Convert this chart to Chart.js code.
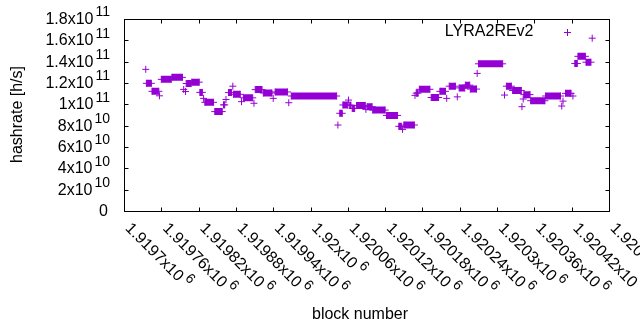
<!DOCTYPE html>
<html><head><meta charset="utf-8">
<script src="https://cdn.jsdelivr.net/npm/chart.js@4/dist/chart.umd.min.js"></script>
<style>html,body{margin:0;padding:0;background:#fff;}#wrap{width:640px;height:330px;}</style>
</head><body><div id="wrap"><canvas id="c" width="640" height="330"></canvas></div>
<script>
// ---- data ----
const seriesName = 'LYRA2REv2';
const xTitle = 'block number';
const yTitle = 'hashrate [h/s]';
// runs of consecutive blocks sharing one hashrate value (start block, end block, value)
const runStart = [1919735,1919736,1919745,1919757,1919760,1919777,1919796,1919799,1919800,1919809,
  1919822,1919828,1919830,1919846,1919860,1919864,1919868,1919875,1919876,1919889,
  1919892,1919909,1919911,1919924,1919940,1919943,1919965,1919969,1920044,1920047,
  1920052,1920061,1920063,1920067,1920074,1920089,1920091,1920100,1920122,1920142,
  1920148,1920150,1920168,1920170,1920175,1920194,1920208,1920219,1920223,1920236,
  1920239,1920249,1920257,1920268,1920270,1920312,1920315,1920325,1920340,1920342,
  1920343,1920354,1920378,1920404,1920406,1920410,1920422,1920425,1920430,1920443,1920453];
const runEnd = [1919735,1919744,1919756,1919757,1919776,1919794,1919796,1919799,1919808,1919821,
  1919826,1919828,1919844,1919858,1919862,1919864,1919873,1919875,1919887,1919889,
  1919907,1919909,1919922,1919938,1919940,1919963,1919965,1920042,1920044,1920051,
  1920060,1920061,1920065,1920071,1920088,1920089,1920099,1920120,1920140,1920146,
  1920148,1920167,1920168,1920173,1920192,1920206,1920217,1920219,1920233,1920236,
  1920248,1920256,1920267,1920268,1920309,1920312,1920323,1920339,1920340,1920342,
  1920353,1920377,1920402,1920404,1920406,1920419,1920422,1920429,1920442,1920451,1920453];
const hashrate = [132.8e9,119.7e9,112.2e9,108.0e9,123.4e9,125.3e9,114.0e9,112.0e9,119.5e9,120.8e9,
  111.2e9,105.6e9,101.9e9,93.2e9,99.5e9,104.5e9,111.0e9,117.0e9,109.4e9,102.5e9,
  106.1e9,101.0e9,113.8e9,110.6e9,105.6e9,111.6e9,101.5e9,107.8e9,80.6e9,91.6e9,
  99.4e9,104.0e9,99.2e9,96.2e9,99.0e9,95.3e9,97.8e9,94.6e9,89.6e9,79.4e9,
  76.5e9,80.6e9,108.4e9,110.5e9,114.1e9,106.4e9,112.2e9,105.6e9,117.0e9,107.0e9,
  115.4e9,118.0e9,114.3e9,129.0e9,138.0e9,108.7e9,117.0e9,113.0e9,97.8e9,105.0e9,
  109.1e9,103.4e9,107.8e9,98.4e9,103.0e9,110.3e9,107.8e9,138.3e9,145.0e9,139.5e9,162.0e9];
// tick labels
const yTickValues = [0,2e10,4e10,6e10,8e10,1e11,1.2e11,1.4e11,1.6e11,1.8e11];
const yTickBase = ['0','2x10','4x10','6x10','8x10','1x10','1.2x10','1.4x10','1.6x10','1.8x10'];
const yTickExp  = ['','10','10','10','10','11','11','11','11','11'];
const xTickValues = [1919700,1919760,1919820,1919880,1919940,1920000,1920060,1920120,1920180,1920240,1920300,1920360,1920420,1920480];
const xTickBase = ['1.9197x10','1.91976x10','1.91982x10','1.91988x10','1.91994x10','1.92x10','1.92006x10','1.92012x10','1.92018x10','1.92024x10','1.9203x10','1.92036x10','1.92042x10','1.92048x10'];
const xTickExp  = ['6','6','6','6','6','6','6','6','6','6','6','6','6','6'];

// ---- build the library's data table ----
const points = [];
for (let i = 0; i < runStart.length; i++) {
  points.push({x: runStart[i], y: hashrate[i]});
  if (runEnd[i] !== runStart[i]) points.push({x: runEnd[i], y: hashrate[i]});
  points.push({x: runEnd[i], y: null});
}

const COLOR = '#9400d3';
const FONT = '16px "Liberation Sans", Arial, sans-serif';
const SUP = '14px "Liberation Sans", Arial, sans-serif';

const frame = {
  id: 'frame',
  afterDraw(chart) {
    const {ctx, chartArea: a, scales: {x, y}} = chart;
    ctx.save();
    ctx.strokeStyle = '#000'; ctx.lineWidth = 1;
    const L = Math.round(a.left) + 0.5, R = Math.round(a.right) + 0.5;
    const T = Math.round(a.top) + 0.5, B = Math.round(a.bottom) + 0.5;
    ctx.strokeRect(L, T, R - L, B - T);
    ctx.beginPath();
    yTickValues.forEach(v => {
      const py = Math.round(y.getPixelForValue(v)) + 0.5;
      ctx.moveTo(L, py); ctx.lineTo(L + 4, py);
      ctx.moveTo(R, py); ctx.lineTo(R - 4, py);
    });
    xTickValues.forEach(v => {
      const px = Math.round(x.getPixelForValue(v)) + 0.5;
      ctx.moveTo(px, B); ctx.lineTo(px, B - 4);
      ctx.moveTo(px, T); ctx.lineTo(px, T + 4);
    });
    ctx.stroke();

    ctx.fillStyle = '#000';
    ctx.textBaseline = 'middle';
    // y tick labels
    yTickValues.forEach((v, i) => {
      const py = y.getPixelForValue(v);
      ctx.textAlign = 'right';
      if (yTickExp[i]) {
        let xr = 110;
        ctx.font = SUP;
        ctx.fillText(yTickExp[i], xr, py - 6.5);
        xr -= ctx.measureText(yTickExp[i]).width + 2;
        ctx.font = FONT;
        ctx.fillText(yTickBase[i], xr, py + 0.5);
      } else {
        ctx.font = FONT;
        ctx.fillText(yTickBase[i], 108, py + 0.5);
      }
    });
    // x tick labels, rotated
    xTickValues.forEach((v, i) => {
      const px = x.getPixelForValue(v);
      ctx.save();
      ctx.translate(px + 3.7, 226);
      ctx.rotate(Math.PI / 4);
      ctx.textAlign = 'left';
      ctx.font = FONT;
      ctx.fillText(xTickBase[i], 0, 0);
      const w = ctx.measureText(xTickBase[i]).width;
      ctx.font = SUP;
      ctx.fillText(xTickExp[i], w + 3, -6.5);
      ctx.restore();
    });
    // axis titles
    ctx.font = FONT;
    ctx.textAlign = 'center';
    ctx.fillText(xTitle, 360, 315);
    ctx.save();
    ctx.translate(17.5, 114.5);
    ctx.rotate(-Math.PI / 2);
    ctx.fillText(yTitle, 0, 0);
    ctx.restore();
    // key
    ctx.textAlign = 'right';
    ctx.fillText(seriesName, 533.5, 32);
    ctx.strokeStyle = COLOR;
    ctx.beginPath();
    ctx.moveTo(564, 32.5); ctx.lineTo(571, 32.5);
    ctx.moveTo(567.5, 29); ctx.lineTo(567.5, 36);
    ctx.stroke();
    ctx.restore();
  }
};

new Chart(document.getElementById('c').getContext('2d'), {
  type: 'scatter',
  data: {datasets: [{
    label: seriesName, data: points, showLine: true, spanGaps: false,
    borderColor: COLOR, backgroundColor: COLOR, borderWidth: 7, borderCapStyle: 'butt',
    pointStyle: 'cross', pointRadius: 3.5, pointHoverRadius: 3.5,
    pointBorderColor: COLOR, pointBorderWidth: 1, tension: 0
  }]},
  options: {
    responsive: false, animation: false, events: [],
    layout: {padding: {left: 124, top: 19, right: 31, bottom: 119}},
    plugins: {legend: {display: false}, tooltip: {enabled: false}},
    scales: {
      x: {type: 'linear', display: false, min: 1919700, max: 1920480},
      y: {type: 'linear', display: false, min: 0, max: 1.8e11}
    }
  },
  plugins: [frame]
});
</script></body></html>
